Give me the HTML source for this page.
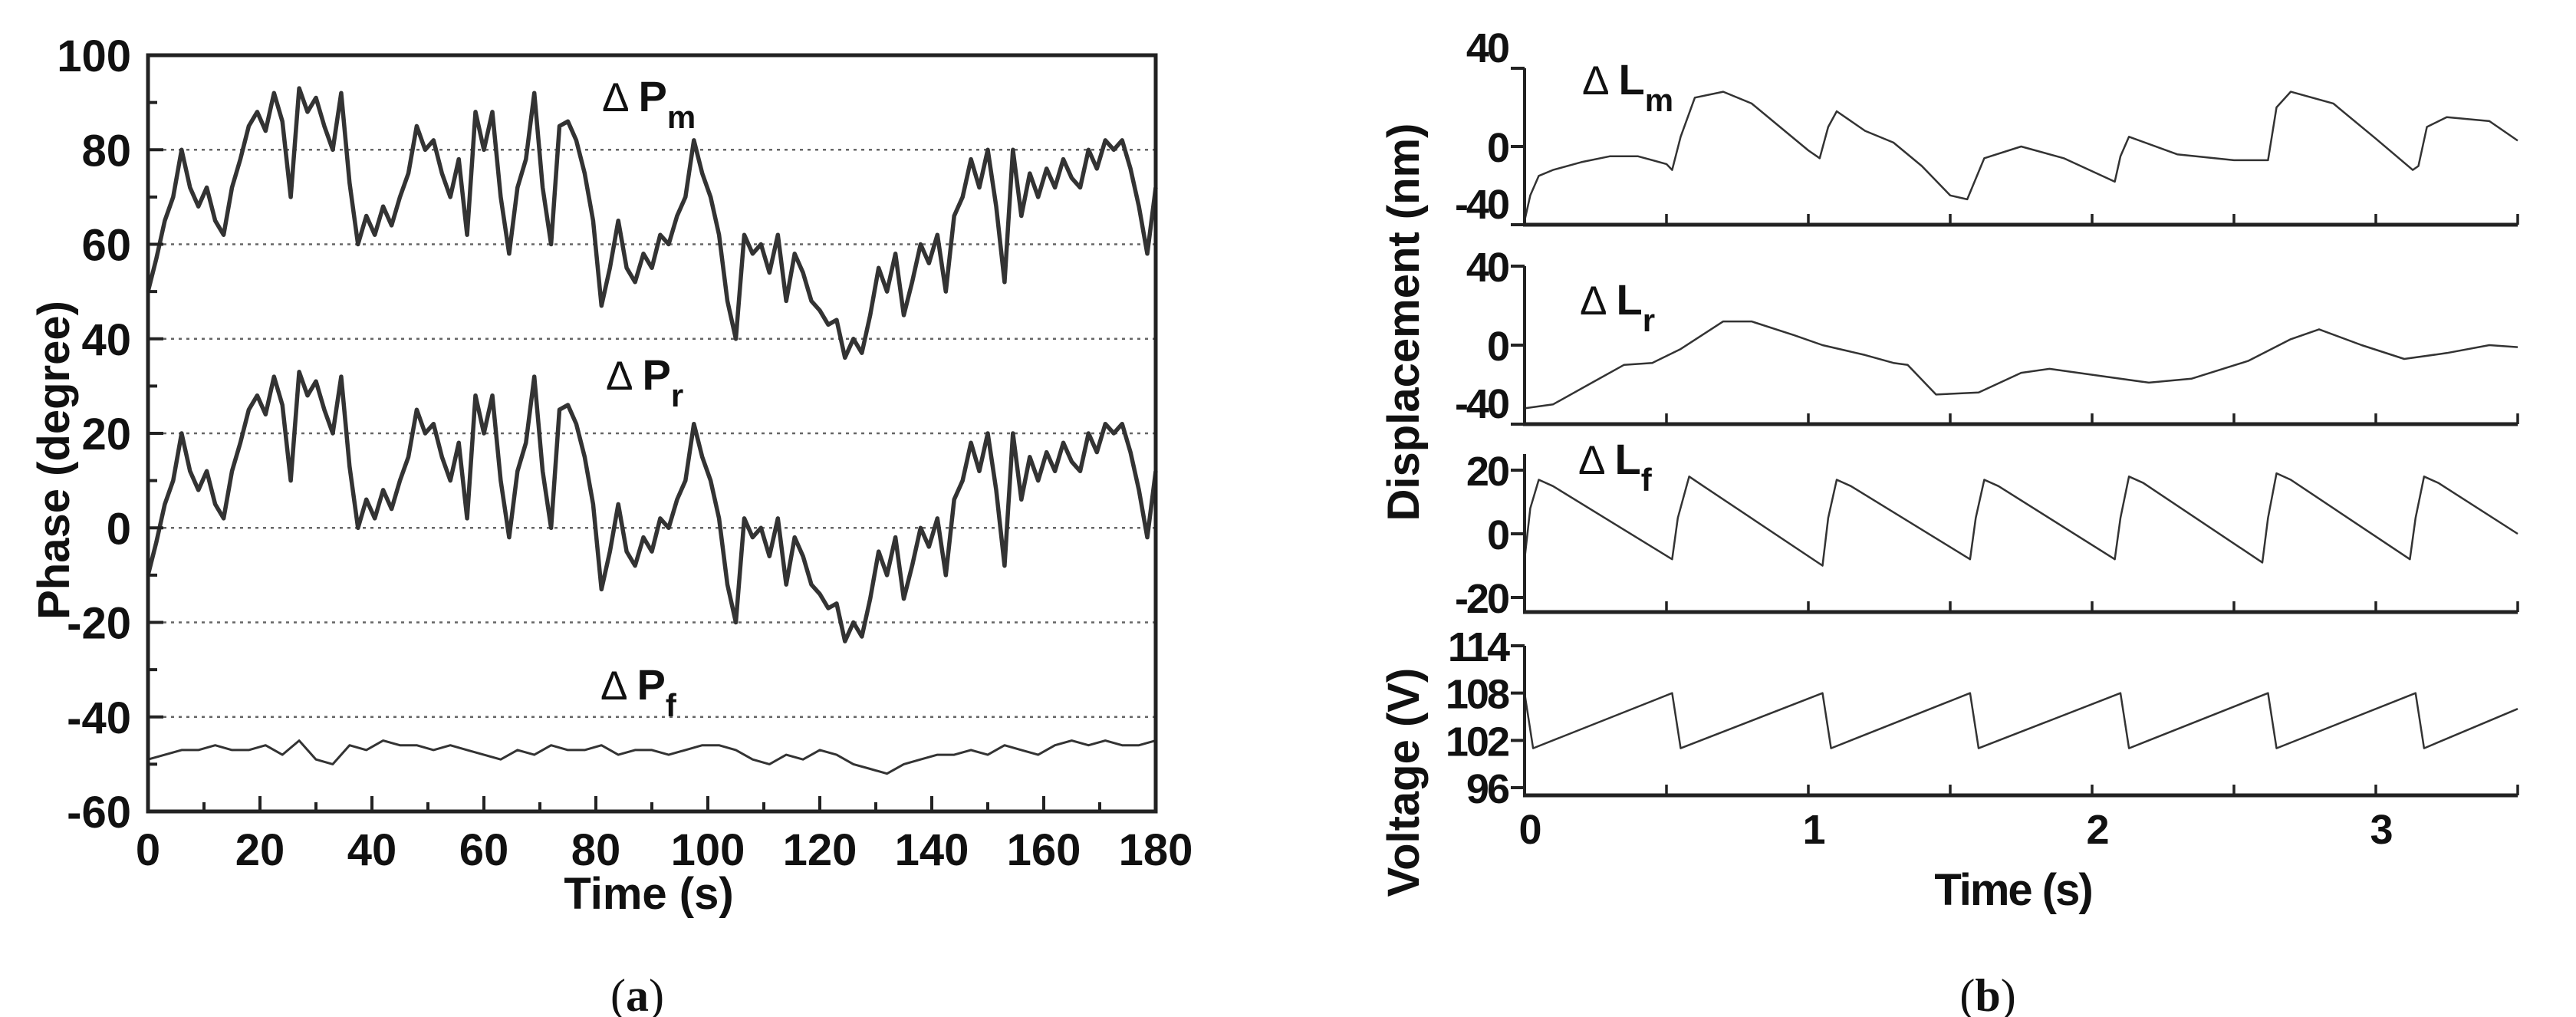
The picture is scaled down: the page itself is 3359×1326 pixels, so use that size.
<!DOCTYPE html>
<html><head><meta charset="utf-8">
<style>
html,body{margin:0;padding:0;background:#fff;}
svg{display:block;}
text{font-family:"Liberation Sans",Arial,sans-serif;fill:#111;}
.tk{font-weight:bold;font-size:58px;}
.tkb{font-weight:bold;font-size:54px;letter-spacing:-3px;}
.ttl{font-weight:bold;font-size:58px;}
.cap{font-family:"Liberation Serif",serif;font-size:60px;}
</style></head>
<body>
<svg id="fig" width="3359" height="1326" viewBox="0 0 3359 1326" xmlns="http://www.w3.org/2000/svg">
<g id="pa"></g>
<g id="pb"></g>
<text class="cap" x="831" y="1318" text-anchor="middle">(<tspan font-weight="bold">a</tspan>)</text>
<text class="cap" x="2592" y="1318" text-anchor="middle">(<tspan font-weight="bold">b</tspan>)</text>
</svg>
<script>
// ---------- Panel (a) data ----------
const aXTicks = [0,20,40,60,80,100,120,140,160,180];
const aYTicks = [100,80,60,40,20,0,-20,-40,-60];
const aGrid = [80,60,40,20,0,-20,-40];
const pmVals = [50,57,65,70,80,72,68,72,65,62,72,78,85,88,84,92,86,70,93,88,91,85,80,92,73,60,66,62,68,64,70,75,85,80,82,75,70,78,62,88,80,88,70,58,72,78,92,72,60,85,86,82,75,65,47,55,65,55,52,58,55,62,60,66,70,82,75,70,62,48,40,62,58,60,54,62,48,58,54,48,46,43,44,36,40,37,45,55,50,58,45,52,60,56,62,50,66,70,78,72,80,68,52,80,66,75,70,76,72,78,74,72,80,76,82,80,82,76,68,58,72];
const prVals = [-10,-3,5,10,20,12,8,12,5,2,12,18,25,28,24,32,26,10,33,28,31,25,20,32,13,0,6,2,8,4,10,15,25,20,22,15,10,18,2,28,20,28,10,-2,12,18,32,12,0,25,26,22,15,5,-13,-5,5,-5,-8,-2,-5,2,0,6,10,22,15,10,2,-12,-20,2,-2,0,-6,2,-12,-2,-6,-12,-14,-17,-16,-24,-20,-23,-15,-5,-10,-2,-15,-8,0,-4,2,-10,6,10,18,12,20,8,-8,20,6,15,10,16,12,18,14,12,20,16,22,20,22,16,8,-2,12];
const pfVals = [-49,-48,-47,-47,-46,-47,-47,-46,-48,-45,-49,-50,-46,-47,-45,-46,-46,-47,-46,-47,-48,-49,-47,-48,-46,-47,-47,-46,-48,-47,-47,-48,-47,-46,-46,-47,-49,-50,-48,-49,-47,-48,-50,-51,-52,-50,-49,-48,-48,-47,-48,-46,-47,-48,-46,-45,-46,-45,-46,-46,-45];

// ---------- Panel (b) data ----------
const bXTicks = [0,1,2,3];
const lmT = [0,0.02,0.05,0.1,0.2,0.3,0.4,0.5,0.52,0.55,0.6,0.7,0.8,0.9,1.0,1.04,1.07,1.1,1.2,1.3,1.4,1.5,1.56,1.58,1.62,1.75,1.9,2.08,2.1,2.13,2.3,2.5,2.62,2.65,2.7,2.85,3.0,3.13,3.15,3.18,3.25,3.4,3.5];
const lmV = [-38,-25,-15,-12,-8,-5,-5,-9,-12,5,25,28,22,10,-2,-6,10,18,8,2,-10,-25,-27,-20,-6,0,-6,-18,-5,5,-4,-7,-7,20,28,22,4,-12,-10,10,15,13,3];
const lrT = [0,0.1,0.25,0.35,0.45,0.55,0.7,0.8,0.95,1.05,1.2,1.3,1.35,1.45,1.6,1.75,1.85,2.0,2.2,2.35,2.55,2.7,2.8,2.95,3.1,3.25,3.4,3.5];
const lrV = [-32,-30,-18,-10,-9,-2,12,12,5,0,-5,-9,-10,-25,-24,-14,-12,-15,-19,-17,-8,3,8,0,-7,-4,0,-1];
const lfT = [0,0.02,0.05,0.1,0.52,0.54,0.58,0.63,1.05,1.07,1.1,1.15,1.57,1.59,1.62,1.67,2.08,2.1,2.13,2.18,2.6,2.62,2.65,2.7,3.12,3.14,3.17,3.22,3.5];
const lfV = [-8,8,17,15,-8,5,18,15,-10,5,17,15,-8,5,17,15,-8,5,18,16,-9,5,19,17,-8,5,18,16,0];
const vT = [0,0.03,0.52,0.55,1.05,1.08,1.57,1.6,2.1,2.13,2.62,2.65,3.14,3.17,3.5];
const vV = [108,101,108,101,108,101,108,101,108,101,108,101,108,101,106];

const NS="http://www.w3.org/2000/svg";
function mk(parent,tag,attrs){const e=document.createElementNS(NS,tag);for(const k in attrs)e.setAttribute(k,attrs[k]);parent.appendChild(e);return e;}

// ---------- Panel (a) ----------
const pa=document.getElementById('pa');
const aL=193,aR=1507,aT=72,aB=1058;
const ax=t=>aL+(t/180)*(aR-aL);
const ay=v=>aT+(100-v)/160*(aB-aT);
aGrid.forEach(g=>{const l=mk(pa,'line',{x1:aL,x2:aR,y1:ay(g),y2:ay(g),stroke:'#666','stroke-width':2.5,'stroke-dasharray':'4 6'});

});
function series(parent,vals,xf,yf,name,w){
  const n=vals.length;let d='';
  vals.forEach((v,i)=>{d+=(i?'L':'M')+xf(i*180/(n-1)).toFixed(1)+','+yf(v).toFixed(1);});
  const p=mk(parent,'path',{d:d,fill:'none',stroke:'#333','stroke-width':w,'stroke-linejoin':'round'});
  
  
}
series(pa,pmVals,ax,ay,'series-delta-pm',5.5);
series(pa,prVals,ax,ay,'series-delta-pr',5.5);
series(pa,pfVals,ax,ay,'series-delta-pf',3);
const frame=mk(pa,'rect',{x:aL,y:aT,width:aR-aL,height:aB-aT,fill:'none',stroke:'#222','stroke-width':5});


for(let v=-60;v<=100;v+=10){const major=(v%20===0);
 const t=mk(pa,'line',{x1:aL,x2:aL+(major?20:12),y1:ay(v),y2:ay(v),stroke:'#222','stroke-width':4});
 
 }
for(let v=0;v<=180;v+=10){const major=(v%20===0);
 const t=mk(pa,'line',{x1:ax(v),x2:ax(v),y1:aB,y2:aB-(major?20:12),stroke:'#222','stroke-width':4});
 
 }
aYTicks.forEach(v=>{const t=mk(pa,'text',{x:aL-22,y:ay(v)+21,'text-anchor':'end','class':'tk'});t.textContent=v;
 
 });
aXTicks.forEach(v=>{const t=mk(pa,'text',{x:ax(v),y:aB+70,'text-anchor':'middle','class':'tk'});t.textContent=v;
 
 });
let tt=mk(pa,'text',{x:846,y:1185,'text-anchor':'middle','class':'ttl'});tt.textContent='Time (s)';


tt=mk(pa,'text',{x:90,y:600,'text-anchor':'middle','class':'ttl',transform:'rotate(-90 90 600)'});tt.textContent='Phase  (degree)';


function lab(parent,x,y,L,sub,name,sz){
 const t=mk(parent,'text',{x:x,y:y});
 t.innerHTML='<tspan font-size="'+(sz*0.95)+'">\u0394</tspan><tspan font-weight="bold" font-size="'+sz+'" dx="12">'+L+'</tspan><tspan font-weight="bold" font-size="'+(sz*0.75)+'" dy="22">'+sub+'</tspan>';
 
 
}
lab(pa,785,145,'P','m','label-delta-pm',56);
lab(pa,790,508,'P','r','label-delta-pr',56);
lab(pa,783,912,'P','f','label-delta-pf',56);

// ---------- Panel (b) ----------
const pb=document.getElementById('pb');
const bL=1988,bR=3283;
const bx=t=>bL+t/3.5*(bR-bL);
const subs=[
 {name:'displacement-m',T:lmT,V:lmV,top:89,bot:293,vTop:40,vBot:-40,ticks:[40,0,-40],axTop:89},
 {name:'displacement-r',T:lrT,V:lrV,top:347,bot:553,vTop:40,vBot:-40,ticks:[40,0,-40],axTop:347},
 {name:'displacement-f',T:lfT,V:lfV,top:613,bot:779,vTop:20,vBot:-20,ticks:[20,0,-20],axTop:592},
 {name:'voltage',T:vT,V:vV,top:842,bot:1027,vTop:114,vBot:96,ticks:[114,108,102,96],axTop:842}
];
const axisBottoms=[293,553,798,1037];
subs.forEach((s,k)=>{
 const g=mk(pb,'g',{});
 
 
 const yf=v=>s.top+(s.vTop-v)/(s.vTop-s.vBot)*(s.bot-s.top);
 const ab=axisBottoms[k];
 let d='';s.T.forEach((t,i)=>{d+=(i?'L':'M')+bx(t).toFixed(1)+','+yf(s.V[i]).toFixed(1);});
 const p=mk(g,'path',{d:d,fill:'none',stroke:'#333','stroke-width':2.5,'stroke-linejoin':'round'});
 
 
 const la=mk(g,'line',{x1:bL,x2:bL,y1:s.axTop,y2:ab,stroke:'#222','stroke-width':4});
 
 
 const ba=mk(g,'line',{x1:bL-2,x2:bR,y1:ab,y2:ab,stroke:'#222','stroke-width':5});
 
 
 for(let t=0.5;t<=3.5;t+=0.5){const tk=mk(g,'line',{x1:bx(t),x2:bx(t),y1:ab,y2:ab-14,stroke:'#222','stroke-width':3.5});
  
  }
 s.ticks.forEach(v=>{
  const tk=mk(g,'line',{x1:bL-18,x2:bL,y1:yf(v),y2:yf(v),stroke:'#222','stroke-width':4});
  
  
  const tl=mk(g,'text',{x:bL-22,y:yf(v)+(k===0&&v===40?-8:(v===s.vBot&&k<2?-8:20)),'text-anchor':'end','class':'tkb'});tl.textContent=v;
  
  
 });
});
bXTicks.forEach(v=>{const t=mk(pb,'text',{x:bx(v)+6,y:1100,'text-anchor':'middle','class':'tkb'});t.textContent=v;
 
 });
tt=mk(pb,'text',{x:2625,y:1180,'text-anchor':'middle','class':'ttl',style:'letter-spacing:-2px'});tt.textContent='Time (s)';


tt=mk(pb,'text',{x:1850,y:420,'text-anchor':'middle','class':'ttl',transform:'rotate(-90 1850 420)'});tt.textContent='Displacement (nm)';


tt=mk(pb,'text',{x:1850,y:1020,'text-anchor':'middle','class':'ttl',transform:'rotate(-90 1850 1020)'});tt.textContent='Voltage (V)';


lab(pb,2063,123,'L','m','label-delta-lm',56);
lab(pb,2060,410,'L','r','label-delta-lr',56);
lab(pb,2058,618,'L','f','label-delta-lf',56);
</script>
</body></html>
